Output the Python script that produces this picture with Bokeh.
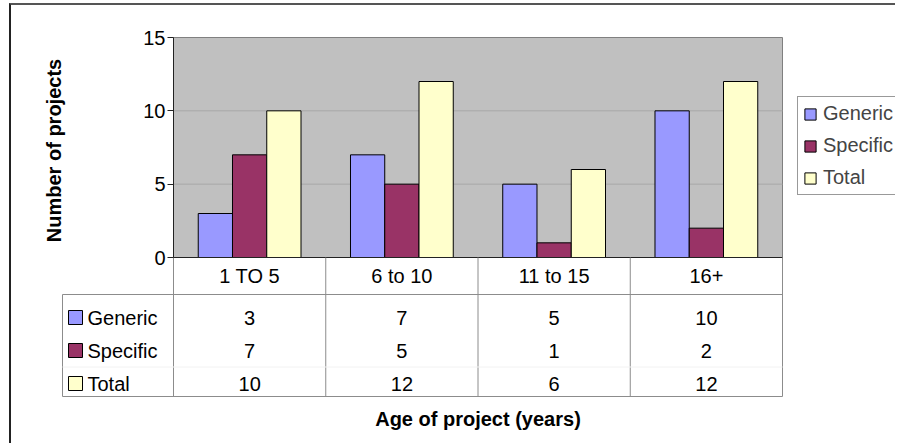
import math
from bokeh.plotting import figure
from bokeh.models import Range1d, FixedTicker, ColumnDataSource
from bokeh.layouts import column
from bokeh.core.properties import value
from bokeh.embed import file_html
from bokeh.resources import INLINE

# ---------------- data ----------------
categories = ["1 TO 5", "6 to 10", "11 to 15", "16+"]
generic = [3, 7, 5, 10]
specific = [7, 5, 1, 2]
total = [10, 12, 6, 12]
series_names = ["Generic", "Specific", "Total"]
series_colors = ["#9999FF", "#993366", "#FFFFCC"]
y_ticks = [0, 5, 10, 15]
y_max = 15
x_title = "Age of project (years)"
y_title = "Number of projects"

FONT = "Liberation Sans"
FS = "20px"

# ---------------- layout constants (page pixels) ----------------
OX, OY = 11, 5                 # canvas origin on the page (margin + border)
PANEL_L = 31                   # left panel (axis) width
FRAME_LEFT = OX + PANEL_L
FRAME_RIGHT = 895
FRAME_TOP = OY
FRAME_BOT = 443
CAT0_X = 173                   # page x of category boundary 0
PX_PER_CAT = (782 - 173) / len(categories)
ZERO_Y = 257                   # page y of value 0
PX_PER_Y = (257 - 37) / y_max
BAR_W = 0.225


def xu(px):
    return (px - CAT0_X) / PX_PER_CAT


def yu(py):
    return (ZERO_Y - py) / PX_PER_Y


p = figure(x_range=Range1d(xu(FRAME_LEFT), xu(FRAME_RIGHT)),
           y_range=Range1d(yu(FRAME_BOT), yu(FRAME_TOP)),
           frame_width=FRAME_RIGHT - FRAME_LEFT, frame_height=FRAME_BOT - FRAME_TOP,
           min_border_left=PANEL_L, min_border_right=0, min_border_top=0, min_border_bottom=0,
           x_axis_location=None, y_axis_location="left",
           toolbar_location=None, output_backend="svg",
           background_fill_color="white", border_fill_color="white",
           outline_line_color=None)
p.grid.visible = False

n = len(categories)
centers = [i + 0.5 for i in range(n)]

# plot area background
p.quad(left=[0], right=[n], bottom=[0], top=[y_max], fill_color="#c0c0c0",
       line_color="#808080", line_width=1)
# grid lines at inner ticks
inner = [t for t in y_ticks if 0 < t < y_max]
p.segment(x0=[0] * len(inner), y0=inner, x1=[n] * len(inner), y1=inner,
          line_color="#a8a8a8", line_width=1)

# bars
src = ColumnDataSource(dict(x=centers, generic=generic, specific=specific, total=total))
cols = ["generic", "specific", "total"]
offsets = [-BAR_W, 0.0, BAR_W]
for c, off, name, color in zip(cols, offsets, series_names, series_colors):
    src.data["x_" + c] = [x + off for x in centers]
    p.vbar(x="x_" + c, top=c, bottom=0, width=BAR_W, source=src,
           fill_color=color, line_color="black", line_width=1, legend_label=name)

# zero line
p.segment(x0=[0], y0=[0], x1=[n], y1=[0], line_color="#222222", line_width=1)

# y axis at category boundary 0
ya = p.yaxis[0]
ya.fixed_location = 0
ya.bounds = (0, y_max)
ya.ticker = FixedTicker(ticks=y_ticks)
ya.major_tick_out = 6
ya.major_tick_in = 0
ya.minor_tick_line_color = None
ya.axis_line_color = "#222222"
ya.major_tick_line_color = "#222222"
ya.major_label_text_font = FONT
ya.major_label_text_font_size = FS
ya.major_label_text_color = "black"
ya.major_label_standoff = 2

# y title (as close to the reference position as the frame allows)
p.text(x=[xu(FRAME_LEFT + 11)], y=[yu(150)], text=[y_title], angle=math.pi / 2,
       text_font=value(FONT), text_font_size=FS, text_font_style="bold",
       text_align="center", text_baseline="middle", text_color="black")

# legend
lg = p.legend[0]
lg.location = (797 - FRAME_LEFT, FRAME_BOT - 195)
lg.label_text_font = FONT
lg.label_text_font_size = FS
lg.glyph_width = 14
lg.glyph_height = 14
lg.label_height = 20
lg.label_standoff = 6
lg.spacing = 9
lg.padding = 5
lg.margin = 0
lg.border_line_color = "#333333"
lg.border_line_width = 1
lg.background_fill_color = "white"
lg.background_fill_alpha = 1.0

# ---------------- data table ----------------
HEAD_Y = yu(275)
HEAD_BOT = yu(294)
ROW_Y = [yu(317), yu(350), yu(383)]
TAB_BOT = yu(396)
TITLE_Y = yu(418)
left_edge = xu(62)
bounds = list(range(n + 1))
grey = "#8c8c8c"

p.segment(x0=bounds[1:], y0=[0] * n, x1=bounds[1:], y1=[TAB_BOT] * n, line_color=grey, line_width=1)
p.segment(x0=[0], y0=[0], x1=[0], y1=[TAB_BOT], line_color=grey, line_width=1)
p.segment(x0=[left_edge, left_edge], y0=[HEAD_BOT, TAB_BOT], x1=[n, n], y1=[HEAD_BOT, TAB_BOT],
          line_color=grey, line_width=1)
p.segment(x0=[left_edge], y0=[HEAD_BOT], x1=[left_edge], y1=[TAB_BOT], line_color=grey, line_width=1)
p.segment(x0=[left_edge], y0=[(ROW_Y[1] + ROW_Y[2]) / 2], x1=[n], y1=[(ROW_Y[1] + ROW_Y[2]) / 2],
          line_color="#f2f2f2", line_width=1)

p.text(x=centers, y=[HEAD_Y] * n, text=categories, text_font=value(FONT),
       text_font_size=FS, text_align="center", text_baseline="middle", text_color="black")

rows = [generic, specific, total]
for vals, ry in zip(rows, ROW_Y):
    p.text(x=centers, y=[ry] * n, text=[str(v) for v in vals], text_font=value(FONT),
           text_font_size=FS, text_align="center", text_baseline="middle", text_color="black")

p.scatter(x=[xu(75)] * 3, y=ROW_Y, marker="square", size=14, fill_color=series_colors,
          line_color="black", line_width=1)
p.text(x=[xu(87)] * 3, y=ROW_Y, text=series_names, text_font=value(FONT),
       text_font_size=FS, text_align="left", text_baseline="middle", text_color="black")

p.text(x=[n / 2.0], y=[TITLE_Y], text=[x_title], text_font=value(FONT),
       text_font_size=FS, text_font_style="bold", text_align="center",
       text_baseline="middle", text_color="black")

layout = column(p, margin=(3, 0, 0, 9),
                styles={"border-left": "2px solid #222222", "border-top": "2px solid #555555"})

open("out.html", "w").write(file_html(layout, INLINE))
